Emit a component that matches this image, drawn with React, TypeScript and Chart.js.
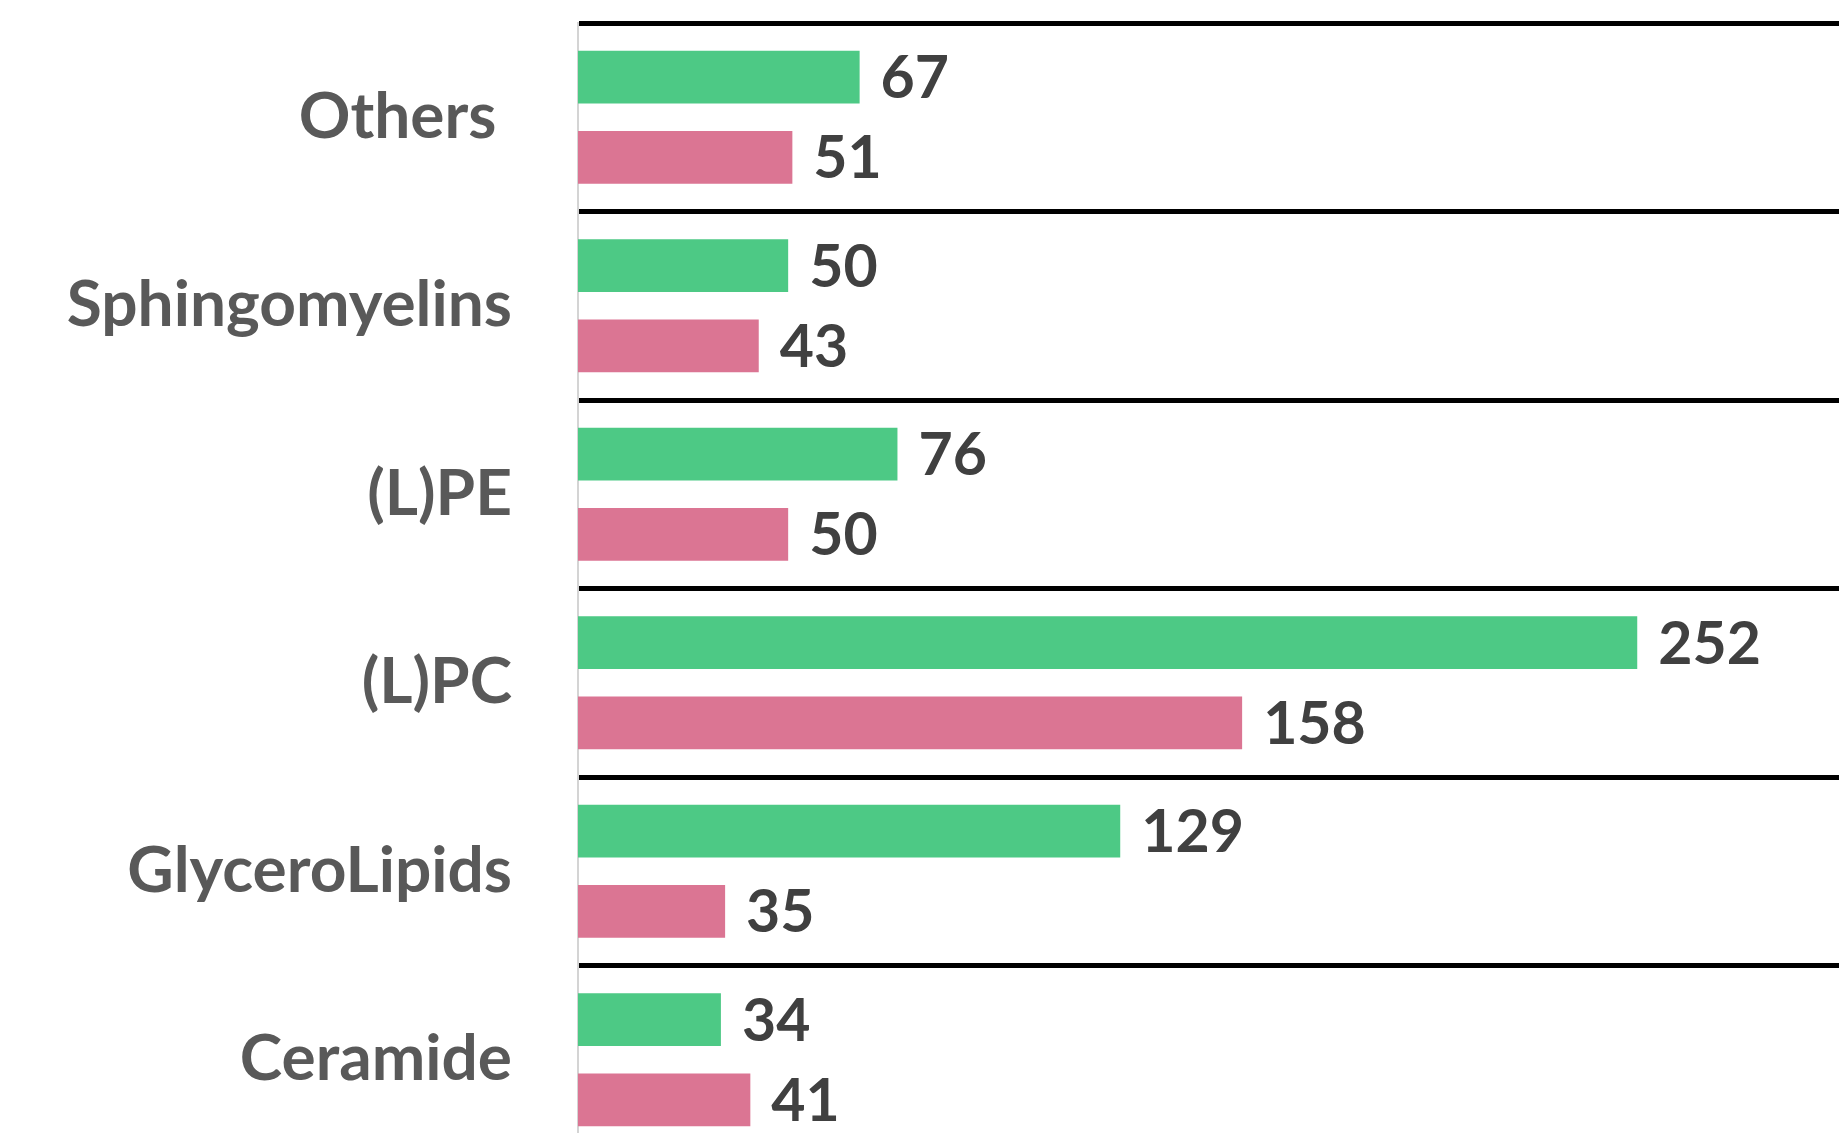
import React, { useEffect, useRef } from 'react';
import { Chart, registerables } from 'chart.js';

Chart.register(...registerables);

const categories = ['Others ', 'Sphingomyelins', '(L)PE', '(L)PC', 'GlyceroLipids', 'Ceramide'];
const greenValues = [67, 50, 76, 252, 129, 34];
const pinkValues = [51, 43, 50, 158, 35, 41];
const xMin = 0;
const xMax = 300;

const GREEN = '#4DC985';
const PINK = '#DB7593';

const valueLabels = {
  id: 'valueLabels',
  afterDatasetsDraw(chart: any) {
    const ctx = chart.ctx;
    ctx.save();
    ctx.font = 'bold 59px Lato';
    ctx.fillStyle = '#404040';
    ctx.textAlign = 'left';
    ctx.textBaseline = 'middle';
    chart.data.datasets.forEach((ds: any, i: number) => {
      const meta = chart.getDatasetMeta(i);
      meta.data.forEach((el: any, j: number) => {
        ctx.fillText(String(ds.data[j]), el.x + 21, el.y + 2);
      });
    });
    ctx.restore();
  },
};

export default function App() {
  const ref = useRef<HTMLCanvasElement | null>(null);

  useEffect(() => {
    let chart: Chart | null = null;
    let cancelled = false;
    const build = () => {
      if (cancelled || !ref.current) return;
      chart = new Chart(ref.current, {
        type: 'bar',
        data: {
          labels: categories,
          datasets: [
            {
              label: 'Series A',
              data: greenValues,
              backgroundColor: GREEN,
              categoryPercentage: 0.851,
              barPercentage: 0.657,
            },
            {
              label: 'Series B',
              data: pinkValues,
              backgroundColor: PINK,
              categoryPercentage: 0.851,
              barPercentage: 0.657,
            },
          ],
        },
        options: {
          indexAxis: 'y',
          animation: false,
          responsive: true,
          maintainAspectRatio: false,
          layout: { padding: { top: 23, left: 0, right: 0, bottom: 0 } },
          plugins: {
            legend: { display: false },
            tooltip: { enabled: false },
          },
          scales: {
            x: {
              display: false,
              min: xMin,
              max: xMax,
              grid: { display: false },
            },
            y: {
              afterFit: (s: any) => {
                s.width = 578;
                s.paddingTop = 0;
                s.paddingBottom = 0;
              },
              grid: {
                color: '#000000',
                lineWidth: 5,
                drawTicks: false,
                tickLength: 0,
                offset: true,
              },
              border: { display: true, color: '#d4d4d4', width: 2 },
              ticks: {
                padding: 66,
                color: '#595959',
                font: { family: 'Lato', weight: 'bold', size: 64 },
              },
            },
          },
        },
        plugins: [valueLabels],
      });
    };
    const fontsApi = (document as any).fonts;
    if (fontsApi && fontsApi.load) {
      Promise.all([fontsApi.load('bold 64px Lato'), fontsApi.load('bold 59px Lato')])
        .catch(() => null)
        .then(build);
    } else {
      build();
    }
    return () => {
      cancelled = true;
      if (chart) chart.destroy();
    };
  }, []);

  return (
    <div
      style={{
        position: 'absolute',
        top: 0,
        left: 0,
        width: 1839,
        height: 1133,
        overflow: 'hidden',
        background: '#ffffff',
      }}
    >
      <div style={{ position: 'relative', width: 1839, height: 1154 }}>
        <canvas ref={ref} />
      </div>
    </div>
  );
}
